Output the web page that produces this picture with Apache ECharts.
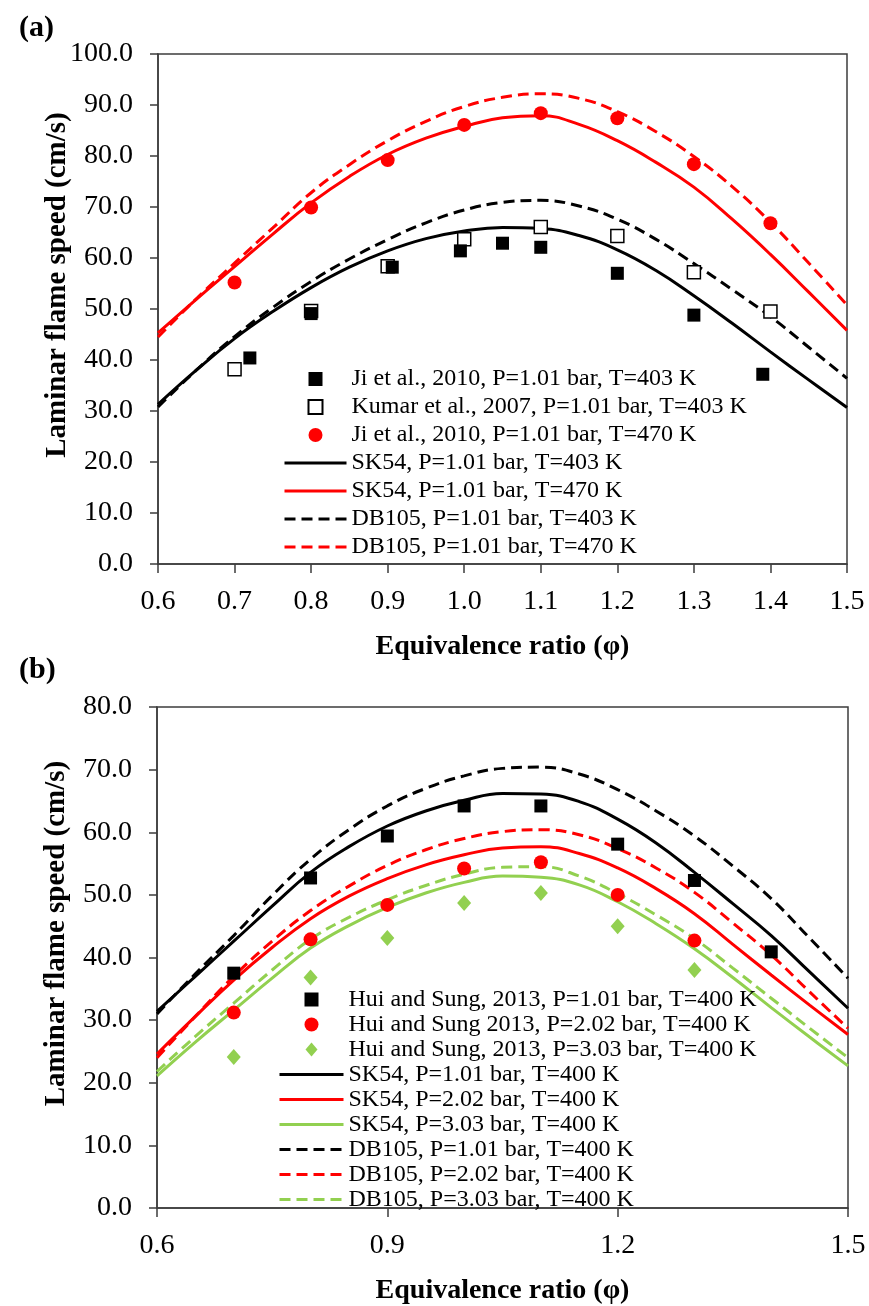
<!DOCTYPE html>
<html>
<head>
<meta charset="utf-8">
<script src="https://cdn.jsdelivr.net/npm/echarts@6/dist/echarts.min.js"></script>
<style>
  html, body { margin: 0; padding: 0; background: #fff; }
  #chart { width: 869px; height: 1306px; }
</style>
</head>
<body>
<div id="chart"></div>
<script>
// Equivalence ratios at which the model curves are sampled
const phiA = [0.6, 0.65, 0.7, 0.75, 0.8, 0.85, 0.9, 0.95, 1.0, 1.05, 1.1, 1.15, 1.2, 1.25, 1.3, 1.35, 1.4, 1.45, 1.5];
const phiB = phiA;

// ---- Panel (a): model curves, T = 403 K and 470 K ----
const sk54_403  = [31.3, 38.0, 44.2, 49.5, 54.2, 58.2, 61.4, 63.8, 65.3, 66.0, 65.8, 64.4, 61.6, 57.6, 52.6, 47.2, 41.6, 36.1, 30.7];
const sk54_470  = [45.3, 51.9, 58.3, 64.7, 70.8, 76.0, 80.3, 83.5, 85.8, 87.5, 87.9, 86.2, 83.0, 78.8, 73.9, 67.6, 60.7, 53.3, 45.8];
const db105_403 = [30.8, 38.0, 44.6, 50.3, 55.4, 59.8, 63.6, 66.9, 69.4, 70.9, 71.3, 70.2, 67.6, 63.7, 58.9, 53.8, 48.5, 42.5, 36.4];
const db105_470 = [44.5, 52.0, 59.0, 65.9, 72.8, 78.3, 83.0, 86.8, 89.7, 91.5, 92.2, 91.3, 88.7, 84.8, 79.9, 74.0, 67.0, 59.0, 50.8];

// Measurements, panel (a): [phi, speed]
const ji2010_403 = [[0.72, 40.4], [0.80, 49.1], [0.906, 58.2], [0.995, 61.4], [1.05, 62.9], [1.10, 62.1], [1.20, 57.0], [1.30, 48.8], [1.39, 37.2]];
const kumar2007_403 = [[0.70, 38.2], [0.80, 49.6], [0.90, 58.4], [1.00, 63.7], [1.10, 66.1], [1.20, 64.3], [1.30, 57.2], [1.40, 49.5]];
const ji2010_470 = [[0.70, 55.2], [0.80, 69.9], [0.90, 79.2], [1.00, 86.1], [1.10, 88.4], [1.20, 87.4], [1.30, 78.4], [1.40, 66.8]];

// ---- Panel (b): model curves, T = 400 K at three pressures ----
const sk54_101  = [31.4, 37.0, 42.6, 48.2, 53.6, 57.7, 61.0, 63.4, 65.1, 66.2, 66.1, 64.9, 62.1, 58.3, 53.6, 48.6, 43.5, 37.7, 31.9];
const sk54_202  = [24.6, 30.6, 36.4, 41.6, 46.2, 49.8, 52.6, 54.8, 56.4, 57.5, 57.7, 56.6, 54.3, 51.0, 47.0, 42.1, 37.2, 32.4, 27.7];
const sk54_303  = [21.1, 26.5, 31.6, 36.7, 41.5, 45.1, 48.0, 50.3, 52.0, 53.0, 52.8, 51.6, 48.9, 45.4, 41.4, 36.8, 32.0, 27.3, 22.7];
const db105_101 = [31.0, 37.4, 43.5, 49.9, 55.7, 60.4, 64.2, 67.0, 69.0, 70.2, 70.4, 69.3, 66.8, 63.4, 59.4, 54.6, 49.4, 43.1, 36.7];
const db105_202 = [24.0, 30.6, 37.0, 42.6, 47.5, 51.4, 54.7, 57.2, 59.0, 60.1, 60.4, 59.6, 57.4, 54.3, 50.4, 45.5, 40.4, 34.5, 28.7];
const db105_303 = [21.8, 27.4, 32.7, 38.0, 42.9, 46.4, 49.2, 51.5, 53.3, 54.4, 54.5, 53.0, 50.2, 46.8, 43.0, 38.3, 33.5, 28.7, 24.0];

const hui_101 = [[0.7, 37.5], [0.8, 52.7], [0.9, 59.4], [1.0, 64.2], [1.1, 64.2], [1.2, 58.1], [1.3, 52.3], [1.4, 40.9]];
const hui_202 = [[0.7, 31.2], [0.8, 42.9], [0.9, 48.4], [1.0, 54.2], [1.1, 55.2], [1.2, 50.0], [1.3, 42.7]];
const hui_303 = [[0.7, 24.1], [0.8, 36.8], [0.9, 43.1], [1.0, 48.7], [1.1, 50.3], [1.2, 45.0], [1.3, 38.0]];

// Axis tick settings
const xTicksA = { min: 0.6, max: 1.5, interval: 0.1 };
const yTicksA = { min: 0, max: 100, interval: 10 };
const xTicksB = { min: 0.6, max: 1.5, interval: 0.3 };
const yTicksB = { min: 0, max: 80, interval: 10 };

const FONT = "'Liberation Serif', 'Times New Roman', serif";
const AXIS_COLOR = '#3c3c3c';
const RED = '#ff0000';
const BLACK = '#000000';
const GREEN = '#92d050';
const DASH = [11, 6];

// Legend glyphs drawn as paths so they keep a square / diamond aspect
const ICONS = {
  rect: 'path://M0,0L10,0L10,10L0,10Z',
  diamond: 'path://M6,0L12,7L6,14L0,7Z',
  circle: 'circle'
};

const zip = (xs, ys) => xs.map((x, i) => [x, ys[i]]);

function lineSeries(name, xs, ys, color, dashed, gi) {
  return {
    name, type: 'line', xAxisIndex: gi, yAxisIndex: gi,
    data: zip(xs, ys), smooth: 0.45, symbol: 'none', z: 2,
    lineStyle: { color, width: 3, type: dashed ? DASH : 'solid' },
    itemStyle: { color }
  };
}
function pointSeries(name, data, symbol, size, fill, stroke, gi, z) {
  return {
    name, type: 'scatter', xAxisIndex: gi, yAxisIndex: gi,
    data, symbol, symbolSize: size, z,
    itemStyle: { color: fill, borderColor: stroke || fill, borderWidth: stroke ? 1.5 : 0, opacity: 1 }
  };
}

function legendItem(s) {
  if (s.type === 'scatter') {
    return { name: s.name, icon: ICONS[s.symbol] };
  }
  return {
    name: s.name,
    itemStyle: { opacity: 0 },
    lineStyle: { color: s.lineStyle.color, width: 3, type: s.lineStyle.type, opacity: 1 }
  };
}

function xAxis(gi, t) {
  return {
    type: 'value', gridIndex: gi, min: t.min, max: t.max, interval: t.interval,
    name: 'Equivalence ratio (φ)', nameLocation: 'middle', nameGap: 69, nameMoveOverlap: false,
    nameTextStyle: { fontFamily: FONT, fontSize: 28, fontWeight: 'bold', color: '#000' },
    axisLine: { show: true, lineStyle: { color: AXIS_COLOR, width: 1.5 } },
    axisTick: { show: true, inside: false, length: 9, lineStyle: { color: AXIS_COLOR, width: 1.5 } },
    axisLabel: { fontFamily: FONT, fontSize: 28, color: '#000', margin: 24,
                 formatter: v => v.toFixed(1) },
    splitLine: { show: false }
  };
}
function yAxis(gi, t) {
  return {
    type: 'value', gridIndex: gi, min: t.min, max: t.max, interval: t.interval,
    name: 'Laminar flame speed (cm/s)', nameLocation: 'middle', nameGap: 86, nameMoveOverlap: false,
    nameTextStyle: { fontFamily: FONT, fontSize: 29, fontWeight: 'bold', color: '#000',
                     padding: [0, 0, 0, 48] },
    axisLine: { show: true, lineStyle: { color: AXIS_COLOR, width: 1.5 } },
    axisTick: { show: true, inside: false, length: 8, lineStyle: { color: AXIS_COLOR, width: 1.5 } },
    axisLabel: { fontFamily: FONT, fontSize: 28, color: '#000', margin: 25,
                 formatter: v => v.toFixed(1) },
    splitLine: { show: false }
  };
}

const series = [
  // panel (a)
  pointSeries('Ji et al., 2010, P=1.01 bar, T=403 K', ji2010_403, 'rect', 13, BLACK, null, 0, 5),
  pointSeries('Kumar et al., 2007, P=1.01 bar, T=403 K', kumar2007_403, 'rect', 13, '#ffffff', BLACK, 0, 4),
  pointSeries('Ji et al., 2010, P=1.01 bar, T=470 K', ji2010_470, 'circle', 14, RED, null, 0, 5),
  lineSeries('SK54, P=1.01 bar, T=403 K', phiA, sk54_403, BLACK, false, 0),
  lineSeries('SK54, P=1.01 bar, T=470 K', phiA, sk54_470, RED, false, 0),
  lineSeries('DB105, P=1.01 bar, T=403 K', phiA, db105_403, BLACK, true, 0),
  lineSeries('DB105, P=1.01 bar, T=470 K', phiA, db105_470, RED, true, 0),
  // panel (b)
  pointSeries('Hui and Sung, 2013, P=1.01 bar, T=400 K', hui_101, 'rect', 13, BLACK, null, 1, 5),
  pointSeries('Hui and Sung 2013, P=2.02 bar, T=400 K', hui_202, 'circle', 14, RED, null, 1, 5),
  pointSeries('Hui and Sung, 2013, P=3.03 bar, T=400 K', hui_303, 'diamond', [14, 16], GREEN, null, 1, 5),
  lineSeries('SK54, P=1.01 bar, T=400 K', phiB, sk54_101, BLACK, false, 1),
  lineSeries('SK54, P=2.02 bar, T=400 K', phiB, sk54_202, RED, false, 1),
  lineSeries('SK54, P=3.03 bar, T=400 K', phiB, sk54_303, GREEN, false, 1),
  lineSeries('DB105, P=1.01 bar, T=400 K', phiB, db105_101, BLACK, true, 1),
  lineSeries('DB105, P=2.02 bar, T=400 K', phiB, db105_202, RED, true, 1),
  lineSeries('DB105, P=3.03 bar, T=400 K', phiB, db105_303, GREEN, true, 1)
];

const legendA = series.slice(0, 7).map(legendItem);
const legendB = series.slice(7).map(legendItem);

const chart = echarts.init(document.getElementById('chart'), null, { renderer: 'canvas' });
chart.setOption({
  backgroundColor: '#ffffff',
  animation: false,
  title: [
    { text: '(a)', left: 14, top: 8, textStyle: { fontFamily: FONT, fontSize: 30, fontWeight: 'bold', color: '#000' } },
    { text: '(b)', left: 14, top: 650, textStyle: { fontFamily: FONT, fontSize: 30, fontWeight: 'bold', color: '#000' } }
  ],
  grid: [
    { left: 158, top: 54, right: 22, bottom: 742, show: true, borderColor: AXIS_COLOR, borderWidth: 1.5, backgroundColor: 'transparent' },
    { left: 157, top: 707, right: 21, bottom: 95, show: true, borderColor: AXIS_COLOR, borderWidth: 1.5, backgroundColor: 'transparent' }
  ],
  xAxis: [xAxis(0, xTicksA), xAxis(1, xTicksB)],
  yAxis: [yAxis(0, yTicksA), yAxis(1, yTicksB)],
  legend: [
    {
      data: legendA, orient: 'vertical', left: 283, top: 365, padding: 0,
      itemWidth: 62, itemHeight: 14, itemGap: 0, selectedMode: false,
      textStyle: { fontFamily: FONT, fontSize: 24, color: '#000', lineHeight: 28 }
    },
    {
      data: legendB, orient: 'vertical', left: 278, top: 987, padding: 0,
      itemWidth: 64, itemHeight: 14, itemGap: 0, selectedMode: false,
      textStyle: { fontFamily: FONT, fontSize: 24, color: '#000', lineHeight: 25 }
    }
  ],
  series
});
</script>
</body>
</html>
